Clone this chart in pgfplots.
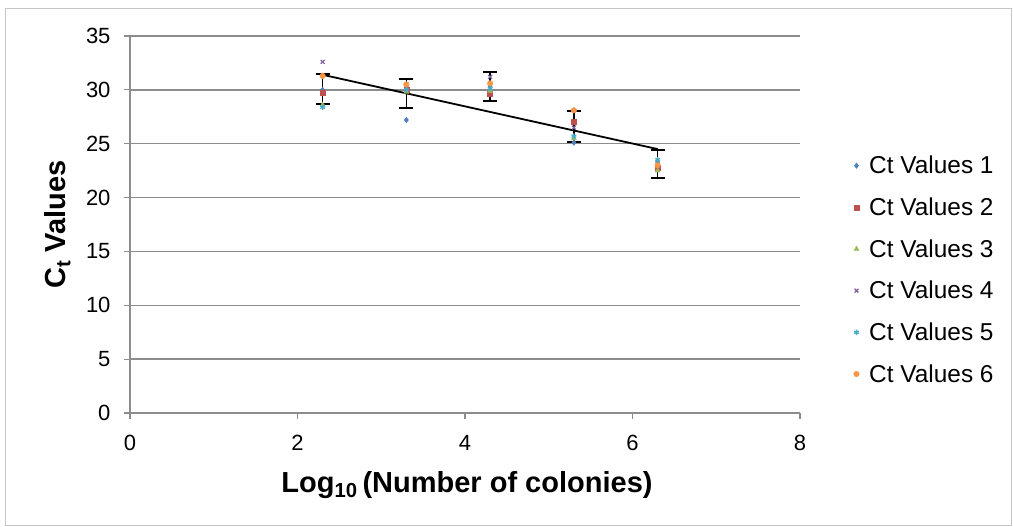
\documentclass[border=0pt]{standalone}
\usepackage{pgfplots}
\pgfplotsset{compat=1.18}
\usepackage{fontspec}
\setmainfont{Liberation Sans}
\definecolor{c1}{HTML}{4F81BD}
\definecolor{c2}{HTML}{C0504D}
\definecolor{c3}{HTML}{9BBB59}
\definecolor{c4}{HTML}{8064A2}
\definecolor{c5}{HTML}{4BACC6}
\definecolor{c6}{HTML}{F79646}
\definecolor{gridgray}{HTML}{8C8C8C}
\begin{document}
\begin{tikzpicture}
\path[use as bounding box] (0,0) rectangle (1013bp,527bp);
\draw[draw=gray!45, line width=0.8bp] (5bp,2bp) rectangle (1011bp,519bp);
\begin{axis}[
  at={(130bp,114bp)}, anchor=origin,
  scale only axis, width=670bp, height=377bp,
  xmin=0, xmax=8, ymin=0, ymax=35,
  xtick={0,2,...,8}, ytick={0,5,...,35},
  axis x line*=bottom, axis y line*=left,
  axis line style={draw=gridgray, line width=1.2bp, -},
  ymajorgrids, grid style={draw=gridgray, line width=1.5bp},
  tick style={draw=gridgray, line width=1.2bp},
  tick align=outside, major tick length=6bp,
  /pgf/number format/assume math mode=true,
  tick label style={font=\fontsize{22bp}{24bp}\selectfont},
  xticklabel style={yshift=-13bp},
  yticklabel style={xshift=-10bp},
  xlabel={\textbf{Log\textsubscript{10}\,(Number of colonies)}},
  ylabel={\textbf{C\textsubscript{t} Values}},
  xlabel style={at={(axis description cs:0.503,-0.19)}, anchor=center, font=\fontsize{29bp}{32bp}\selectfont},
  ylabel style={at={(axis description cs:-0.108,0.5)}, rotate=0, anchor=center, font=\fontsize{29bp}{32bp}\selectfont},
  legend style={at={(1.0754,0.69)}, anchor=north west, draw=none, fill=none,
    font=\fontsize{24.4bp}{27bp}\selectfont, row sep=20.5bp,
    nodes={inner sep=1bp}},
  legend cell align=left,
  legend image code/.code={\draw[#1] plot coordinates {(0.05cm,0cm)};\path (0.3cm+4bp,0cm);},
]
\addplot[only marks, mark size=2.8bp, mark=diamond*, color=c1] coordinates {(2.3,30.0) (3.3,27.2) (4.3,30.3) (5.3,25.1) (6.3,23.3)};
\addlegendentry{Ct Values 1}
\addplot[only marks, mark=square*, color=c2, mark size=2.5bp] coordinates {(2.3,29.7) (3.3,30.0) (4.3,29.6) (5.3,27.0) (6.3,22.8)};
\addlegendentry{Ct Values 2}
\addplot[only marks, mark size=2.9bp, mark=triangle*, color=c3] coordinates {(2.3,28.6) (3.3,29.8) (4.3,29.9) (5.3,25.5) (6.3,22.5)};
\addlegendentry{Ct Values 3}
\addplot[only marks, mark size=2.7bp, mark=x, color=c4, line width=1.3bp] coordinates {(2.3,32.6) (3.3,30.2) (4.3,31.2) (5.3,26.5) (6.3,23.0)};
\addlegendentry{Ct Values 4}
\addplot[only marks, mark size=2.7bp, mark=asterisk, color=c5, line width=1.3bp] coordinates {(2.3,28.4) (3.3,30.0) (4.3,30.1) (5.3,25.7) (6.3,23.5)};
\addlegendentry{Ct Values 5}
\addplot[only marks, mark size=2.8bp, mark=*, color=c6] coordinates {(2.3,31.3) (3.3,30.5) (4.3,30.6) (5.3,28.1) (6.3,23.0)};
\addlegendentry{Ct Values 6}
\addplot[draw=none, mark=none, forget plot,
  error bars/.cd, y dir=both, y explicit,
  error bar style={draw=black, line width=1.3bp},
  error mark options={rotate=90, mark size=7bp, draw=black, line width=2bp}]
  coordinates {(2.3,30.1) +- (0,1.4) (3.3,29.65) +- (0,1.35) (4.3,30.35) +- (0,1.35) (5.3,26.6) +- (0,1.4) (6.3,23.1) +- (0,1.3)};
\addplot[black, line width=1.8bp, no marks, forget plot] coordinates {(2.3,31.4) (6.3,24.5)};
\end{axis}
\end{tikzpicture}
\end{document}
